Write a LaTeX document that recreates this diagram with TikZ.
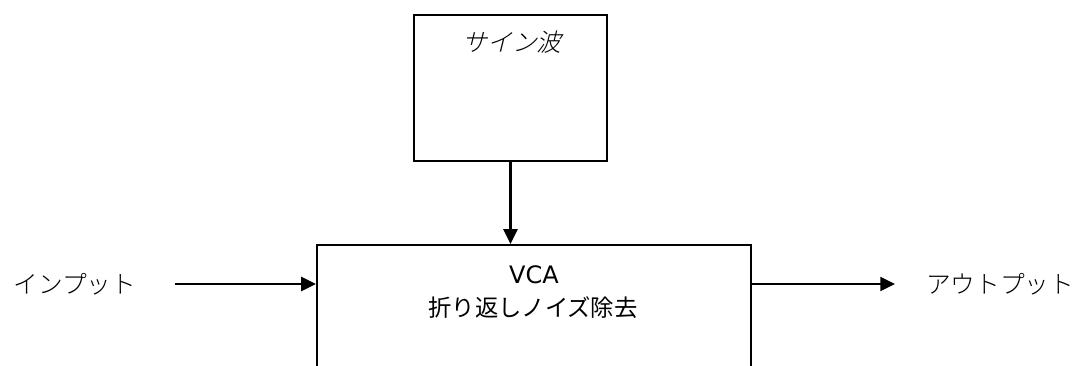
\documentclass[tikz,border=0pt]{standalone}
\usepackage{fontspec}
\usetikzlibrary{arrows.meta}
\newfontfamily\jpsans{Noto Sans CJK JP}
\newfontfamily\jpthin{Noto Sans CJK JP}[UprightFont=* Light]
\newfontfamily\jpslant{Noto Sans CJK JP}[UprightFont=* Light, FakeSlant=0.25]
\newfontfamily\latsans{DejaVu Sans}
\tikzset{
  blk/.style={draw=black, line width=1.7pt, fill=white, inner sep=0pt},
  arr/.style={line width=1.7pt, -{Triangle[length=11pt,width=10.5pt]}},
  lbl/.style={inner sep=0pt, text=black}
}
\begin{document}
\begin{tikzpicture}[x=0.75pt,y=-0.75pt]
\useasboundingbox (0,0) rectangle (1081,365);
% sine box
\node[blk, minimum width=144.75pt, minimum height=109.5pt] (sine) at (510.5,88) {};
\node[lbl, font={\jpslant\fontsize{18.5}{22}\selectfont}] (sinet) at (512,42) {サイン波};
% main box (cut off at bottom)
\node[blk, minimum width=325.5pt, minimum height=131.25pt] (main) at (534,332.5) {};
\node[lbl, font={\latsans\fontsize{18}{22}\selectfont}] (vca) at (534,275) {VCA};
\node[lbl, font={\jpsans\fontsize{17.5}{21}\selectfont}] (nr) at (533,308) {折り返しノイズ除去};
% input / output labels
\node[lbl, font={\jpthin\fontsize{18.5}{22}\selectfont}] (in) at (75,284) {インプット};
\node[lbl, font={\jpthin\fontsize{18.5}{22}\selectfont}] (out) at (1000,284) {アウトプット};
\coordinate (ina) at (175,284);
\coordinate (outb) at (895,284);
% connectors
\draw[arr] (sine.south) -- (sine.south |- main.north);
\draw[arr] (ina) -- (ina -| main.west);
\draw[arr] (outb -| main.east) -- (outb);
\end{tikzpicture}
\end{document}
